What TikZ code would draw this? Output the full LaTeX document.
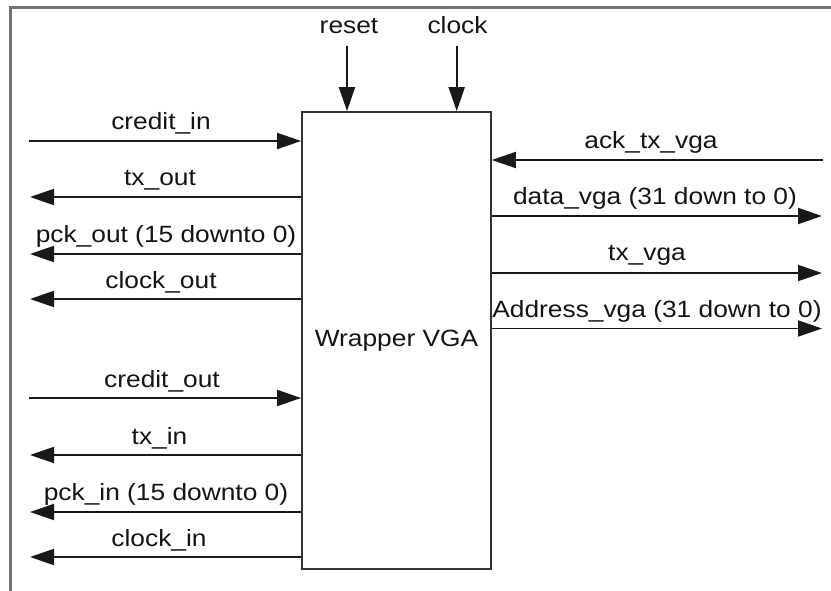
\documentclass[tikz,border=0pt]{standalone}
\usepackage{fontspec}
\setmainfont[FakeStretch=1.12]{Liberation Sans}
\usetikzlibrary{arrows.meta}
\begin{document}
\begin{tikzpicture}[x=1pt,y=-1pt,
  sig/.style={line width=1.9pt, draw=black!90, -{Triangle[length=24pt,width=16pt]}},
  lbl/.style={anchor=base, inner sep=0pt, font=\fontsize{23.5}{28}\selectfont, text=black!92},
  frame/.style={draw=black!55, line width=3pt},
  blockbox/.style={draw=black!80, line width=1.8pt, minimum width=189pt,
    minimum height=457pt, inner sep=0pt, font=\fontsize{23.5}{28}\selectfont, text=black!92}]
\useasboundingbox (0,0) rectangle (831,591);

% outer sheet frame (only top and left edges)
\draw[frame] (10,591) -- (10,8) -- (831,8);

% the wrapper block
\node[blockbox] (wrap) at (396.5,340.5) {Wrapper VGA};

% control inputs from the top
\coordinate (rs) at (347,46);
\coordinate (ck) at (456.7,46);
\draw[sig] (rs) -- (rs |- wrap.north);
\draw[sig] (ck) -- (ck |- wrap.north);
\node[lbl] (lrs) at (349,34) {reset};
\node[lbl] (lck) at (457.5,34) {clock};

% left side ports
\coordinate (ci)  at (29,141);
\coordinate (tout) at (30,197);
\coordinate (pout) at (30,254);
\coordinate (cout) at (30,299);
\coordinate (co)  at (29,398);
\coordinate (tin) at (30,455);
\coordinate (pin) at (30,512);
\coordinate (cin) at (30,557);

\draw[sig] (ci) -- (ci -| wrap.west);
\draw[sig] (wrap.west |- tout) -- (tout);
\draw[sig] (wrap.west |- pout) -- (pout);
\draw[sig] (wrap.west |- cout) -- (cout);
\draw[sig] (co) -- (co -| wrap.west);
\draw[sig] (wrap.west |- tin) -- (tin);
\draw[sig] (wrap.west |- pin) -- (pin);
\draw[sig] (wrap.west |- cin) -- (cin);

\node[lbl] (lci)   at (161,129.5) {credit\_in};
\node[lbl] (ltout) at (160,186) {tx\_out};
\node[lbl] (lpout) at (166,243) {pck\_out (15 downto 0)};
\node[lbl] (lcout) at (161,288) {clock\_out};
\node[lbl] (lco)   at (162,387) {credit\_out};
\node[lbl] (ltin)  at (159.5,444) {tx\_in};
\node[lbl] (lpin)  at (166,500.5) {pck\_in (15 downto 0)};
\node[lbl] (lcin)  at (159,546) {clock\_in};

% right side ports
\coordinate (ack)  at (823,160);
\coordinate (data) at (822,216);
\coordinate (txv)  at (822,273);
\coordinate (addr) at (822,328.5);

\draw[sig] (ack) -- (ack -| wrap.east);
\draw[sig] (wrap.east |- data) -- (data);
\draw[sig] (wrap.east |- txv) -- (txv);
\draw[sig] (wrap.east |- addr) -- (addr);

\node[lbl] (lack)  at (651,148.5) {ack\_tx\_vga};
\node[lbl] (ldata) at (655,205) {data\_vga (31 down to 0)};
\node[lbl] (ltxv)  at (647,261) {tx\_vga};
\node[lbl] (laddr) at (657,317.5) {Address\_vga (31 down to 0)};
\end{tikzpicture}
\end{document}
